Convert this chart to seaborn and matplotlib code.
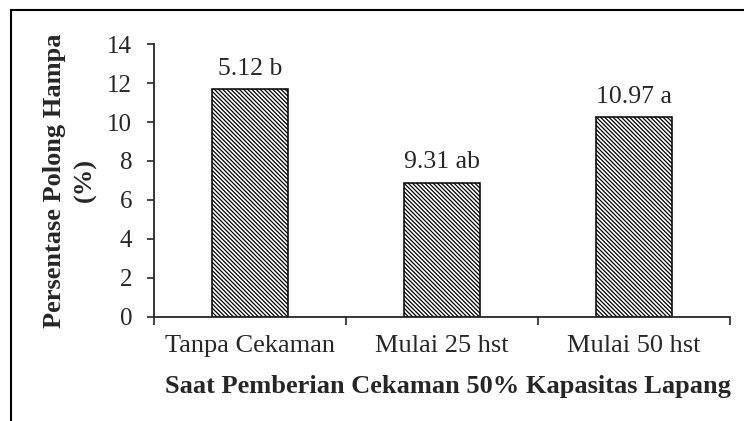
import pandas as pd
import matplotlib.pyplot as plt
import matplotlib.patches as mpatches
import seaborn as sns

# Data
kategori = ['Tanpa Cekaman', 'Mulai 25 hst', 'Mulai 50 hst']
nilai = [11.7, 6.88, 10.25]
label_batang = ['5.12 b', '9.31 ab', '10.97 a']
yticks = [0, 2, 4, 6, 8, 10, 12, 14]

df = pd.DataFrame({'Kategori': kategori, 'Nilai': nilai})

sns.set_style('ticks')
plt.rcParams['font.family'] = ['Liberation Serif', 'DejaVu Serif']
plt.rcParams['hatch.linewidth'] = 0.9
plt.rcParams['hatch.color'] = 'black'

fig = plt.figure(figsize=(7.44, 4.21), dpi=100)
ax = fig.add_axes([154 / 744, 1 - 316.5 / 421, 576 / 744, 272.2 / 421])

sns.barplot(data=df, x='Kategori', y='Nilai', width=0.4, color='white',
            edgecolor='black', linewidth=1.1, ax=ax)
for p in ax.patches:
    p.set_hatch('\\' * 8)

# Label di atas batang
for i, (v, t) in enumerate(zip(nilai, label_batang)):
    ax.annotate(t, (i, v), xytext=(0, 10.4), textcoords='offset points',
                ha='center', va='baseline', fontsize=18.5)

ax.set_xlim(-0.5, 2.5)
ax.set_ylim(0, 14)
ax.set_yticks(yticks)
ax.set_xticks([0, 1, 2])
ax.set_xticks([-0.5, 0.5, 1.5, 2.5], minor=True)
ax.tick_params(axis='x', which='major', length=0, pad=13, labelsize=19)
ax.tick_params(axis='x', which='minor', length=5.8, width=1.2, direction='out')
ax.tick_params(axis='y', length=5, width=1.2, pad=10.8, labelsize=18)

sns.despine(ax=ax)
for s in ['left', 'bottom']:
    ax.spines[s].set_linewidth(1.3)

ax.set_xlabel('Saat Pemberian Cekaman 50% Kapasitas Lapang',
              fontsize=19, fontweight='bold')
ax.xaxis.label.set_va('baseline')
ax.xaxis.set_label_coords(0.51, -0.282)

ax.set_ylabel('Persentase Polong Hampa\n(%)', fontsize=19,
              fontweight='bold', linespacing=1.4)
ax.yaxis.set_label_coords(-0.1, 0.5)

# bingkai luar
fig.patches.append(mpatches.Rectangle((11 / 744, -0.1), 2, 1 - 10 / 421 + 0.1,
                                      transform=fig.transFigure, fill=False,
                                      lw=1.5, edgecolor='black'))

plt.savefig('out.png', dpi=100)
